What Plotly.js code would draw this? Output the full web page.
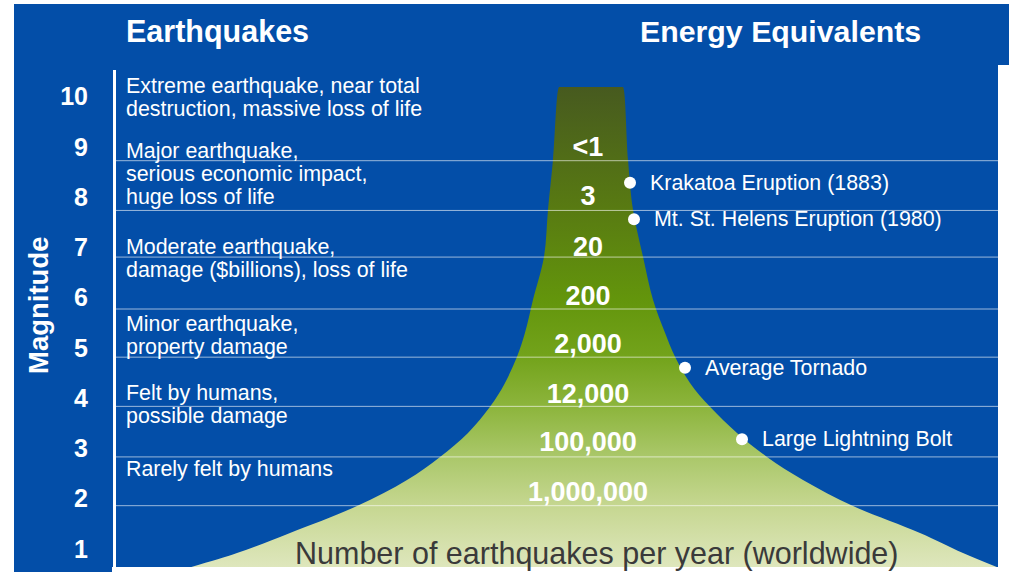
<!DOCTYPE html>
<html>
<head>
<meta charset="utf-8">
<script src="https://cdn.plot.ly/plotly-3.0.1.min.js"></script>
<style>html,body{margin:0;padding:0;background:#fff;}#chart{width:1009px;height:572px;}</style>
</head>
<body>
<div id="chart"></div>
<script>
// ---------- data ----------
const magnitudes = [1, 2, 3, 4, 5, 6, 7, 8, 9, 10];
const magnitudeLabels = ['1', '2', '3', '4', '5', '6', '7', '8', '9', '10'];
const bandEdges = [1.862, 2.832, 3.838, 4.817, 5.775, 6.808, 7.736, 8.726];

const countLabels = ['<1', '3', '20', '200', '2,000', '12,000', '100,000', '1,000,000'];
const countMag = [8.96, 7.98, 6.97, 5.99, 5.03, 4.04, 3.09, 2.08];

const descriptions = [
  ['Extreme earthquake, near total', 'destruction, massive loss of life'],
  ['Major earthquake,', 'serious economic impact,', 'huge loss of life'],
  ['Moderate earthquake,', 'damage ($billions), loss of life'],
  ['Minor earthquake,', 'property damage'],
  ['Felt by humans,', 'possible damage'],
  ['Rarely felt by humans']
];
const descFirstMag = [10.22, 8.925, 7.013, 5.48, 4.106, 2.593];

const energyNames = ['Krakatoa Eruption (1883)', 'Mt. St. Helens Eruption (1980)', 'Average Tornado', 'Large Lightning Bolt'];
const energyMag = [8.288, 7.560, 4.607, 3.183];
const energyX = [630, 634, 685, 742];

// funnel outline (magnitude vs. horizontal extent)
const funnelMag   = [10.19, 8.746, 7.750, 6.814, 5.958, 5.301, 4.823, 4.305, 3.828, 3.310, 2.832, 2.374, 1.856, 1.319, 0.920, 0.600];
const funnelLeft  = [559,   553,   548,   544,   533,   525,   517,   505,   490,   468,   440,   407,   357,   290,   237,   184];
const funnelRight = [623,   628,   633,   643,   653,   665,   675,   690,   710,   737,   767,   803,   853,   920,   963,   1002];

// ---------- build ----------
const BLUE = '#034EA8';
const FONT = 'Liberation Sans, Arial, sans-serif';

const fx = [], fy = [];
for (let i = funnelMag.length - 1; i >= 0; i--) { fx.push(funnelLeft[i]); fy.push(funnelMag[i]); }
// tiny helper points along the flat top keep the spline corners sharp
fx.push(funnelLeft[0] + 1); fy.push(funnelMag[0]);
fx.push(funnelRight[0] - 1); fy.push(funnelMag[0]);
for (let i = 0; i < funnelMag.length; i++) { fx.push(funnelRight[i]); fy.push(funnelMag[i]); }

const funnel = {
  type: 'scatter', mode: 'lines', x: fx, y: fy,
  fill: 'toself', line: {width: 0, color: 'rgba(0,0,0,0)', shape: 'spline', smoothing: 1},
  fillcolor: '#6a9e15',
  fillgradient: {
    type: 'vertical',
    colorscale: [
      [0.00, '#dfe7be'],
      [0.13, '#c6d791'],
      [0.23, '#abc86b'],
      [0.335, '#8db53d'],
      [0.44, '#73a31b'],
      [0.56, '#63950c'],
      [0.75, '#587a12'],
      [1.00, '#475a1f']
    ]
  },
  hoverinfo: 'skip', showlegend: false
};

const counts = {
  type: 'scatter', mode: 'text', x: countLabels.map(() => 588), y: countMag,
  text: countLabels, textposition: 'middle center',
  textfont: {family: FONT, size: 27, color: '#ffffff', weight: 'bold'},
  hoverinfo: 'skip', showlegend: false
};

const dots = {
  type: 'scatter', mode: 'markers', x: energyX, y: energyMag,
  marker: {size: 12, color: '#ffffff'},
  hoverinfo: 'skip', showlegend: false
};

const W = 1009, H = 572;
const mL = 116, mR = 11, mT = 70, mB = 5;
const pw = W - mL - mR, ph = H - mT - mB;
const px2paperX = p => (p - mL) / pw;
const px2paperY = p => (H - mB - p) / ph;

const annotations = [];
const lineStep = 23 / 50.26;
descriptions.forEach((lines, i) => {
  lines.forEach((t, j) => {
    annotations.push({
      text: t, showarrow: false, xref: 'paper', yref: 'y',
      x: px2paperX(124), xanchor: 'left', y: descFirstMag[i] - j * lineStep, yanchor: 'middle',
      font: {family: FONT, size: 21.4, color: '#ffffff'}
    });
  });
});
energyNames.forEach((t, i) => {
  annotations.push({
    text: t, showarrow: false, xref: 'x', yref: 'y',
    x: energyX[i], xshift: 18, xanchor: 'left', y: energyMag[i], yanchor: 'middle',
    font: {family: FONT, size: 21.4, color: '#ffffff'}
  });
});
annotations.push(
  {text: 'Earthquakes', showarrow: false, xref: 'paper', yref: 'paper',
   x: px2paperX(124), xanchor: 'left', y: px2paperY(31), yanchor: 'middle',
   font: {family: FONT, size: 30.5, color: '#ffffff', weight: 'bold'}},
  {text: 'Energy Equivalents', showarrow: false, xref: 'paper', yref: 'paper',
   x: px2paperX(638), xanchor: 'left', y: px2paperY(31), yanchor: 'middle',
   font: {family: FONT, size: 30.3, color: '#ffffff', weight: 'bold'}},
  {text: 'Magnitude', showarrow: false, xref: 'paper', yref: 'paper', textangle: -90,
   x: px2paperX(38), xanchor: 'center', y: px2paperY(305), yanchor: 'middle',
   font: {family: FONT, size: 27.5, color: '#ffffff', weight: 'bold'}},
  {text: 'Number of earthquakes per year (worldwide)', showarrow: false, xref: 'paper', yref: 'paper',
   x: px2paperX(597), xanchor: 'center', y: px2paperY(553), yanchor: 'middle',
   font: {family: FONT, size: 30.5, color: '#3a3a3a'}}
);

const shapes = [
  {type: 'rect', xref: 'paper', yref: 'paper', layer: 'below',
   x0: px2paperX(14), x1: px2paperX(1009), y0: px2paperY(65), y1: px2paperY(4),
   fillcolor: BLUE, line: {width: 0}},
  {type: 'rect', xref: 'paper', yref: 'paper', layer: 'below',
   x0: px2paperX(14), x1: px2paperX(998), y0: px2paperY(567), y1: px2paperY(64),
   fillcolor: BLUE, line: {width: 0}},
  {type: 'rect', xref: 'paper', yref: 'paper', layer: 'below',
   x0: px2paperX(14), x1: px2paperX(112), y0: px2paperY(572), y1: px2paperY(566),
   fillcolor: BLUE, line: {width: 0}}
];
bandEdges.forEach(v => shapes.push({
  type: 'line', xref: 'paper', yref: 'y', layer: 'above',
  x0: 0, x1: 1, y0: v, y1: v,
  line: {color: 'rgba(255,255,255,0.6)', width: 1}
}));

const layout = {
  width: W, height: H,
  margin: {l: mL, r: mR, t: mT, b: mB, pad: 0},
  paper_bgcolor: '#ffffff', plot_bgcolor: 'rgba(0,0,0,0)',
  showlegend: false,
  xaxis: {range: [mL, W - mR], visible: false, fixedrange: true},
  yaxis: {
    range: [1 - 18 / 50.26, 1 + 479 / 50.26],
    tickvals: magnitudes, ticktext: magnitudeLabels,
    showgrid: false, zeroline: false,
    showline: true, linecolor: '#ffffff', linewidth: 3,
    ticks: 'outside', ticklen: 20, tickcolor: 'rgba(0,0,0,0)',
    tickfont: {family: FONT, size: 25, color: '#ffffff', weight: 'bold'},
    fixedrange: true
  },
  annotations: annotations,
  shapes: shapes
};

Plotly.newPlot('chart', [funnel, counts, dots], layout, {displayModeBar: false, staticPlot: true});
</script>
</body>
</html>
